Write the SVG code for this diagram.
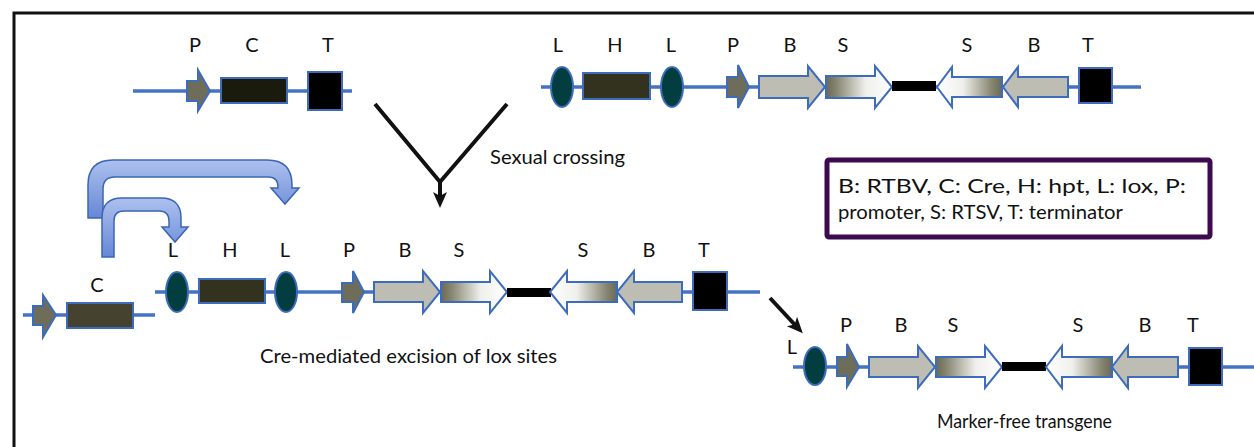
<svg xmlns="http://www.w3.org/2000/svg" width="1254" height="447" viewBox="0 0 1254 447">
<defs>
<style>
.bb{stroke:#4472c4;stroke-width:3.5;fill:none}
.ol{stroke:#3d6cbd;stroke-width:2}
.prom{fill:#6d6d5a}
.bgen{fill:#bebdb3}
.lox{fill:#023e40}
.term{fill:#000}
.hpt{fill:#33321f}
.lbl{font-family:Lato,"Open Sans","Liberation Sans",sans-serif;font-size:20px;fill:#111;text-anchor:middle}
.txt{font-family:Lato,"Open Sans","Liberation Sans",sans-serif;font-size:19px;fill:#111}
.blk{stroke:#111;stroke-width:4;fill:none}
.bend{stroke:#3a66b5;stroke-width:1.5}
</style>
<linearGradient id="sf" x1="0" y1="0" x2="1" y2="0">
<stop offset="0" stop-color="#6a6956"/><stop offset="0.15" stop-color="#85846f"/><stop offset="0.6" stop-color="#efefec"/><stop offset="1" stop-color="#ffffff"/>
</linearGradient>
<linearGradient id="sr" x1="1" y1="0" x2="0" y2="0">
<stop offset="0" stop-color="#6a6956"/><stop offset="0.15" stop-color="#85846f"/><stop offset="0.6" stop-color="#efefec"/><stop offset="1" stop-color="#ffffff"/>
</linearGradient>
<linearGradient id="bg" x1="0" y1="0" x2="0" y2="1">
<stop offset="0" stop-color="#adc1ee"/><stop offset="1" stop-color="#6587d4"/>
</linearGradient>
<marker id="ah" viewBox="0 0 16 16" markerWidth="16" markerHeight="16" markerUnits="userSpaceOnUse" refX="6" refY="8" orient="auto">
<path d="M0,1 L16,8 L0,15 L4,8 Z" fill="#111"/>
</marker>
</defs>
<rect width="1254" height="447" fill="#fff"/>
<path d="M14,447 V13 H1256" fill="none" stroke="#111" stroke-width="3"/>

<!-- Construct 1 -->
<g id="construct1">
<line class="bb" x1="133" y1="91" x2="352" y2="91"/>
<g id="c1-P"><polygon class="prom ol" points="187,81 198,81 198,70 210,91 198,111 198,101 187,101"/><text class="lbl" x="195" y="52">P</text></g>
<g id="c1-C"><rect class="ol" fill="#1b1b0d" x="221" y="78" width="66" height="25"/><text class="lbl" x="252" y="52">C</text></g>
<g id="c1-T"><rect class="term ol" x="308" y="72" width="34" height="38"/><text class="lbl" x="328" y="52">T</text></g>
</g>

<!-- Construct 2 -->
<g id="construct2">
<line class="bb" x1="541" y1="87" x2="1141" y2="87"/>
<g id="c2-L1"><ellipse class="lox ol" cx="562" cy="87" rx="11" ry="20"/><text class="lbl" x="558" y="52">L</text></g>
<g id="c2-H"><rect class="hpt ol" x="583" y="73" width="67" height="26"/><text class="lbl" x="615" y="52">H</text></g>
<g id="c2-L2"><ellipse class="lox ol" cx="672" cy="87" rx="11" ry="20"/><text class="lbl" x="671" y="52">L</text></g>
<g id="c2-P"><polygon class="prom ol" points="727,77 738,77 738,65 749,87 738,108 738,97 727,97"/><text class="lbl" x="733" y="52">P</text></g>
<g id="c2-B1"><polygon class="bgen ol" points="759,76 808,76 808,66 825,87 808,108 808,98 759,98"/><text class="lbl" x="790" y="52">B</text></g>
<g id="c2-S1"><polygon fill="url(#sf)" class="ol" points="826,76 875,76 875,66 892,87 875,108 875,98 826,98"/><text class="lbl" x="843" y="52">S</text></g>
<g id="c2-bar"><rect fill="#000" x="892" y="81" width="44" height="10"/></g>
<g id="c2-S2"><polygon fill="url(#sr)" class="ol" points="1002,77 952,77 952,67 937,87 952,107 952,97 1002,97"/><text class="lbl" x="967" y="52">S</text></g>
<g id="c2-B2"><polygon class="bgen ol" points="1068,77 1018,77 1018,67 1003,87 1018,107 1018,97 1068,97"/><text class="lbl" x="1034" y="52">B</text></g>
<g id="c2-T"><rect class="term ol" x="1079" y="68" width="33" height="35"/><text class="lbl" x="1088" y="52">T</text></g>
</g>

<!-- Construct 3 (Cre) -->
<g id="construct3">
<line class="bb" x1="23" y1="315" x2="155" y2="315"/>
<g id="c3-P"><polygon class="prom ol" points="33,306 43,306 43,295 56,315 43,337 43,325 33,325"/></g>
<g id="c3-C"><rect class="ol" fill="#454230" x="67" y="303" width="66" height="25"/><text class="lbl" x="97" y="292">C</text></g>
</g>

<!-- Construct 4 -->
<g id="construct4">
<line class="bb" x1="155" y1="292" x2="760" y2="292"/>
<g id="c4-L1"><ellipse class="lox ol" cx="177" cy="292" rx="11" ry="20"/><text class="lbl" x="173" y="257">L</text></g>
<g id="c4-H"><rect class="hpt ol" x="199" y="279" width="66" height="24"/><text class="lbl" x="230" y="257">H</text></g>
<g id="c4-L2"><ellipse class="lox ol" cx="286" cy="292" rx="11" ry="20"/><text class="lbl" x="285" y="257">L</text></g>
<g id="c4-P"><polygon class="prom ol" points="342,283 353,283 353,271 364,292 353,313 353,302 342,302"/><text class="lbl" x="349" y="257">P</text></g>
<g id="c4-B1"><polygon class="bgen ol" points="374,282 423,282 423,271 440,292 423,313 423,302 374,302"/><text class="lbl" x="405" y="257">B</text></g>
<g id="c4-S1"><polygon fill="url(#sf)" class="ol" points="441,282 490,282 490,271 507,292 490,313 490,302 441,302"/><text class="lbl" x="459" y="257">S</text></g>
<g id="c4-bar"><rect fill="#000" x="507" y="288" width="44" height="9"/></g>
<g id="c4-S2"><polygon fill="url(#sr)" class="ol" points="617,282 567,282 567,271 550,292 567,313 567,302 617,302"/><text class="lbl" x="583" y="257">S</text></g>
<g id="c4-B2"><polygon class="bgen ol" points="682,282 634,282 634,271 617,292 634,313 634,302 682,302"/><text class="lbl" x="649" y="257">B</text></g>
<g id="c4-T"><rect class="term ol" x="693" y="272" width="34" height="38"/><text class="lbl" x="704" y="257">T</text></g>
</g>

<!-- Construct 5 -->
<g id="construct5">
<line class="bb" x1="793" y1="367" x2="1256" y2="367"/>
<g id="c5-L"><ellipse class="lox ol" cx="815" cy="366" rx="11" ry="19"/><text class="lbl" x="792" y="354">L</text></g>
<g id="c5-P"><polygon class="prom ol" points="837,357 847,357 847,344 859,367 847,387 847,376 837,376"/><text class="lbl" x="846" y="332">P</text></g>
<g id="c5-B1"><polygon class="bgen ol" points="869,357 918,357 918,346 935,367 918,388 918,377 869,377"/><text class="lbl" x="901" y="332">B</text></g>
<g id="c5-S1"><polygon fill="url(#sf)" class="ol" points="936,357 985,357 985,346 1002,367 985,388 985,377 936,377"/><text class="lbl" x="953" y="332">S</text></g>
<g id="c5-bar"><rect fill="#000" x="1002" y="362" width="44" height="9"/></g>
<g id="c5-S2"><polygon fill="url(#sr)" class="ol" points="1112,357 1062,357 1062,346 1046,367 1062,388 1062,377 1112,377"/><text class="lbl" x="1078" y="332">S</text></g>
<g id="c5-B2"><polygon class="bgen ol" points="1178,357 1128,357 1128,346 1112,367 1128,388 1128,377 1178,377"/><text class="lbl" x="1145" y="332">B</text></g>
<g id="c5-T"><rect class="term ol" x="1189" y="348" width="33" height="37"/><text class="lbl" x="1193" y="332">T</text></g>
</g>

<!-- Legend -->
<g id="legend">
<rect x="827" y="160" width="383" height="77" rx="2" fill="#fff" stroke="#3d0a4f" stroke-width="5"/>
<text class="txt" x="838" y="193" font-size="21" textLength="348" lengthAdjust="spacingAndGlyphs">B: RTBV, C: Cre, H: hpt, L: lox, P:</text>
<text class="txt" x="838" y="219" font-size="21" textLength="285" lengthAdjust="spacingAndGlyphs">promoter, S: RTSV, T: terminator</text>
</g>

<!-- Captions -->
<g id="captions">
<text class="txt" x="490" y="164" textLength="135" lengthAdjust="spacingAndGlyphs">Sexual crossing</text>
<text class="txt" x="260" y="363" textLength="297" lengthAdjust="spacingAndGlyphs">Cre-mediated excision of lox sites</text>
<text class="txt" x="937" y="428" textLength="175" lengthAdjust="spacingAndGlyphs">Marker-free transgene</text>
</g>

<!-- Connectors -->
<g id="connectors">
<polyline class="blk" points="375,104 440,182 507,104"/>
<line class="blk" x1="440" y1="180" x2="440" y2="198" marker-end="url(#ah)"/>
<line class="blk" x1="770" y1="298" x2="796" y2="326" marker-end="url(#ah)"/>
<path class="bend" fill="url(#bg)" d="M88,218 L88,185 Q88,160 113,160 L267,160 Q292,160 292,185 L292,188 L299,188 L285,204 L271,188 L278,188 L278,187 Q278,177 268,177 L115,177 Q103,177 103,189 L103,218 Z"/>
<path class="bend" fill="url(#bg)" d="M102,257 L102,218 Q102,198 122,198 L161,198 Q181,198 181,218 L181,227 L188,227 L175,242 L162,227 L169,227 L169,221 Q169,211 159,211 L124,211 Q114,211 114,221 L114,257 Z"/>
</g>
</svg>
